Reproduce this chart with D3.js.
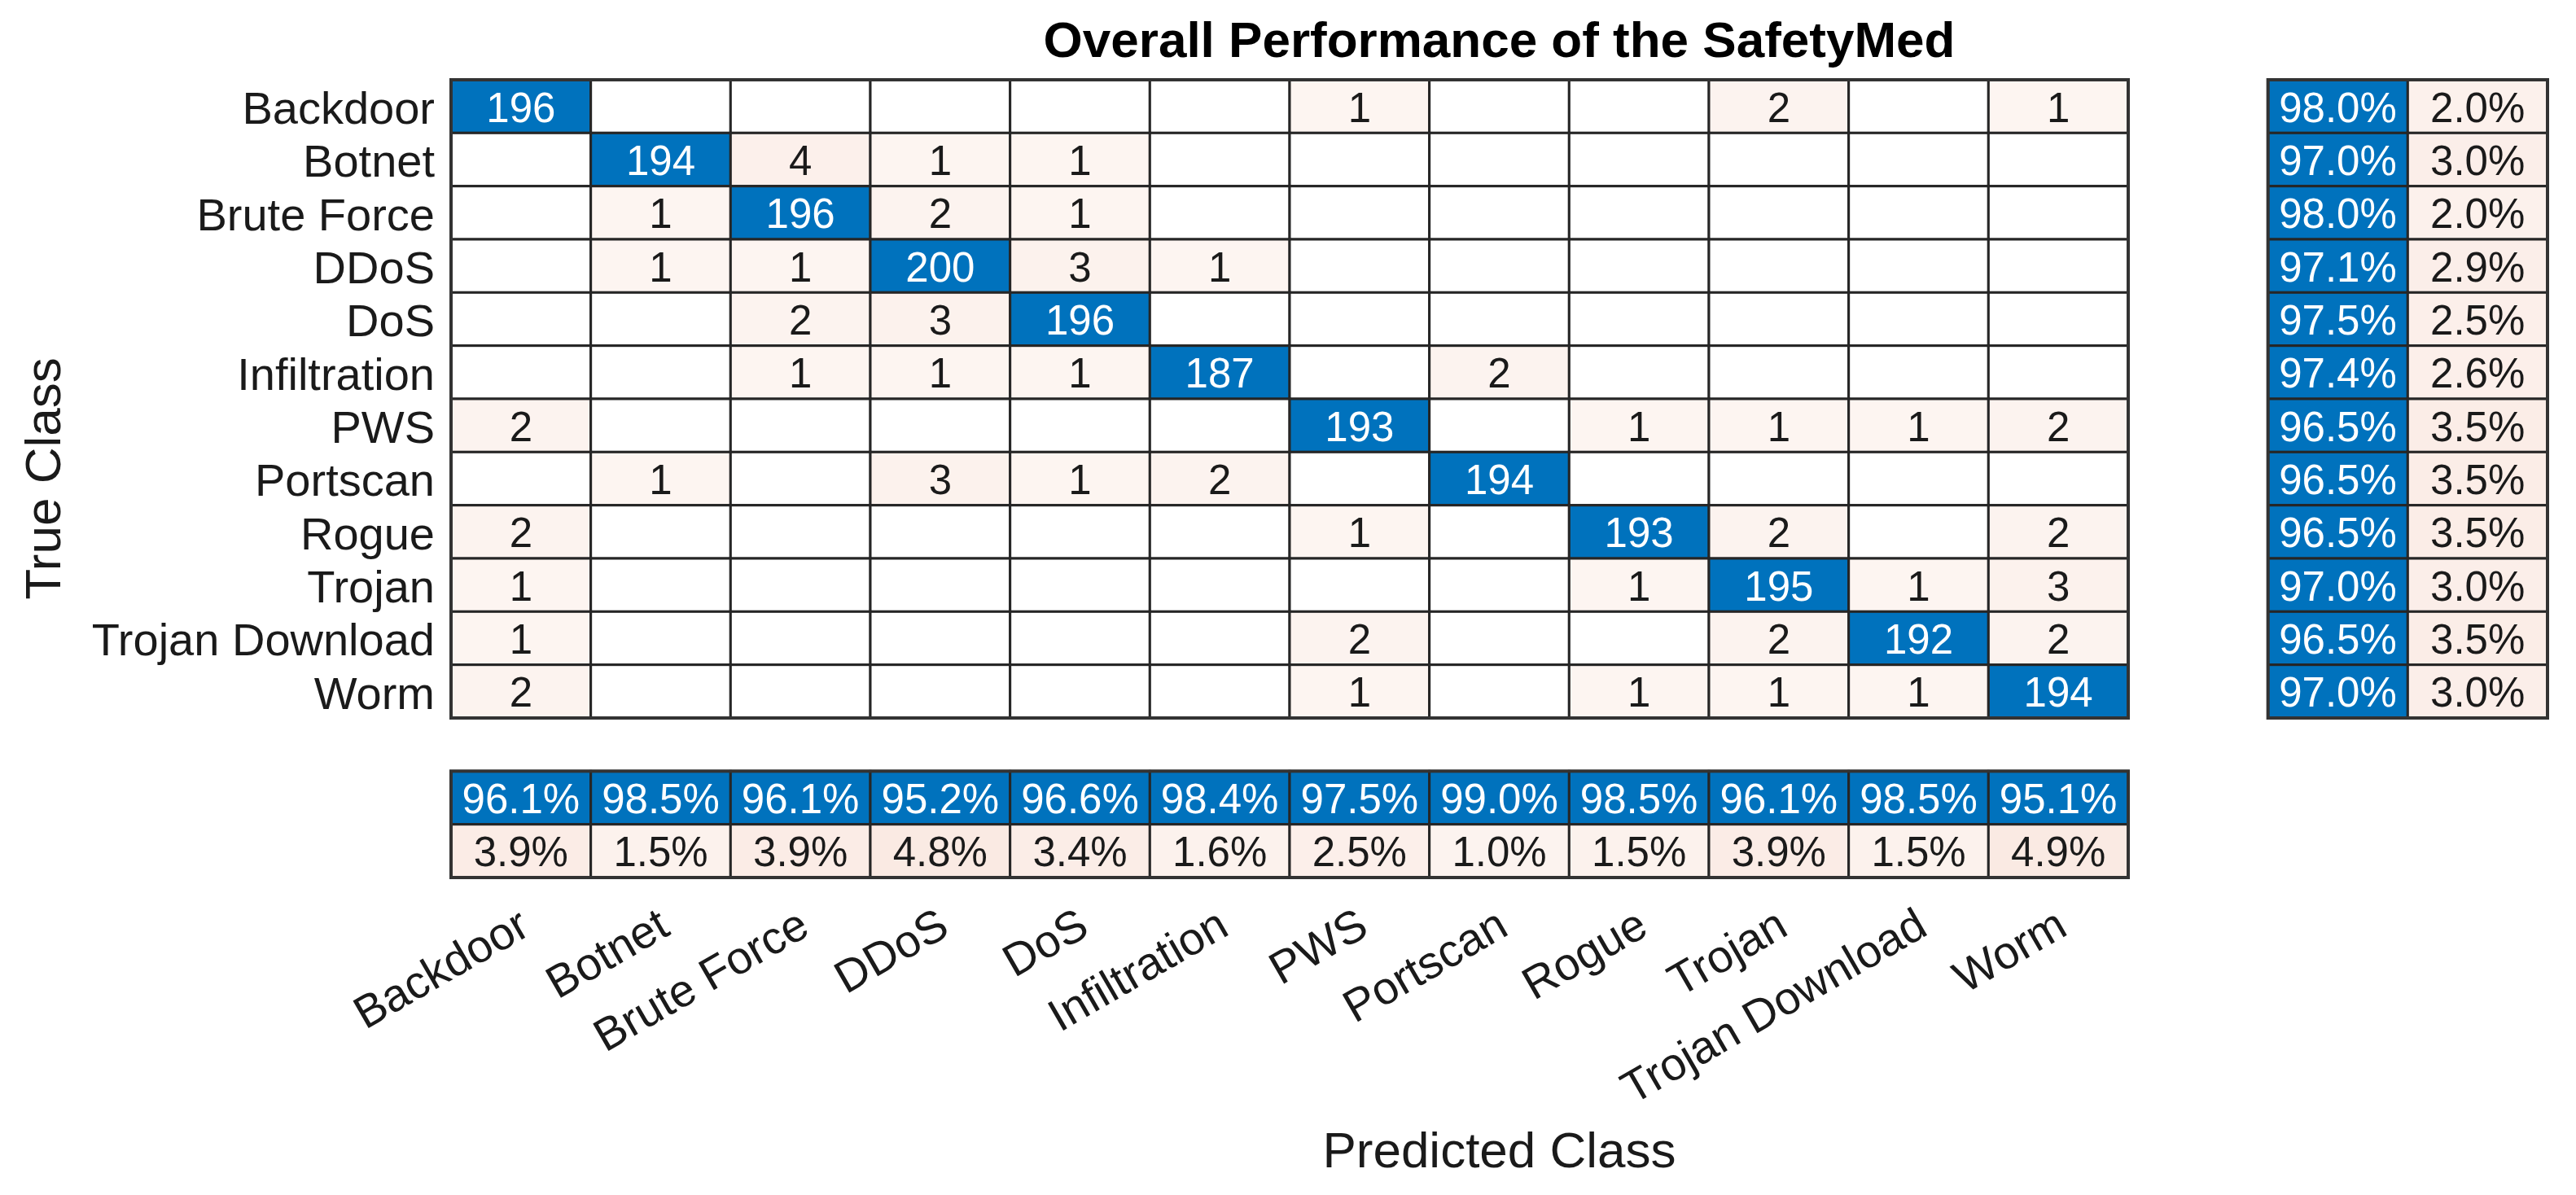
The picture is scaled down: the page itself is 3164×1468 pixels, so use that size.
<!DOCTYPE html>
<html>
<head>
<meta charset="utf-8">
<script src="https://cdn.jsdelivr.net/npm/d3@7"></script>
<style>
  body { margin: 0; background: #fff; }
  text { font-family: "Liberation Sans", Arial, Helvetica, sans-serif; }
</style>
</head>
<body>
<svg id="chart" width="3164" height="1468"></svg>
<script>

// class names (rows = true class, columns = predicted class)
const classes = ["Backdoor", "Botnet", "Brute Force", "DDoS", "DoS", "Infiltration",
                 "PWS", "Portscan", "Rogue", "Trojan", "Trojan Download", "Worm"];

// confusion counts, one array per true class
const counts = [
  [196,   0,   0,   0,   0,   0,   1,   0,   0,   2,   0,   1],
  [  0, 194,   4,   1,   1,   0,   0,   0,   0,   0,   0,   0],
  [  0,   1, 196,   2,   1,   0,   0,   0,   0,   0,   0,   0],
  [  0,   1,   1, 200,   3,   1,   0,   0,   0,   0,   0,   0],
  [  0,   0,   2,   3, 196,   0,   0,   0,   0,   0,   0,   0],
  [  0,   0,   1,   1,   1, 187,   0,   2,   0,   0,   0,   0],
  [  2,   0,   0,   0,   0,   0, 193,   0,   1,   1,   1,   2],
  [  0,   1,   0,   3,   1,   2,   0, 194,   0,   0,   0,   0],
  [  2,   0,   0,   0,   0,   0,   1,   0, 193,   2,   0,   2],
  [  1,   0,   0,   0,   0,   0,   0,   0,   1, 195,   1,   3],
  [  1,   0,   0,   0,   0,   0,   2,   0,   0,   2, 192,   2],
  [  2,   0,   0,   0,   0,   0,   1,   0,   1,   1,   1, 194]
];

// row summary (per true class)
const rowCorrect = [98.0, 97.0, 98.0, 97.1, 97.5, 97.4, 96.5, 96.5, 96.5, 97.0, 96.5, 97.0];
const rowWrong   = [2.0, 3.0, 2.0, 2.9, 2.5, 2.6, 3.5, 3.5, 3.5, 3.0, 3.5, 3.0];

// column summary (per predicted class)
const colCorrect = [96.1, 98.5, 96.1, 95.2, 96.6, 98.4, 97.5, 99.0, 98.5, 96.1, 98.5, 95.1];
const colWrong   = [3.9, 1.5, 3.9, 4.8, 3.4, 1.6, 2.5, 1.0, 1.5, 3.9, 1.5, 4.9];

let svg = d3.select("#chart");
svg.append("rect").attr("width", 3164).attr("height", 1468).attr("fill", "#fff");

let blue = "#0072BD";
let red = d3.interpolateRgb("#ffffff", "#D95319");
let lineCol = "#262626";
let txtCol = "#1a1a1a";

// main grid
let x = d3.scaleBand().domain(classes).range([554, 2614]);
let y = d3.scaleBand().domain(classes).range([98, 882]);
let bw = x.bandwidth(), bh = y.bandwidth();

// summary blocks sit one empty cell away from the matrix
let xr = d3.scaleBand().domain(["ok", "bad"]).range([2614 + bw, 2614 + 3 * bw]);
let yb = d3.scaleBand().domain(["ok", "bad"]).range([882 + bh, 882 + 3 * bh]);

let countShade = d3.scaleLinear().domain([1, 4]).range([0.06, 0.085]);
let pctShade = d3.scaleLinear().domain([1, 5]).range([0.07, 0.125]);

// flatten the matrix
let cells = [];
counts.forEach((row, i) => row.forEach((v, j) => cells.push({r: classes[i], c: classes[j], v: v, diag: i === j})));

function cellFill(d) {
  if (d.diag) return blue;
  if (d.v === 0) return "#ffffff";
  return red(countShade(d.v));
}

let gm = svg.append("g");
gm.selectAll("rect")
  .data(cells)
  .enter().append("rect")
    .attr("x", d => x(d.c))
    .attr("y", d => y(d.r))
    .attr("width", bw)
    .attr("height", bh)
    .attr("fill", cellFill)
    .attr("stroke", lineCol)
    .attr("stroke-width", 3);

gm.selectAll("text")
  .data(cells.filter(d => d.v > 0))
  .enter().append("text")
    .attr("x", d => x(d.c) + bw / 2)
    .attr("y", d => y(d.r) + bh / 2)
    .attr("dy", "0.37em")
    .attr("text-anchor", "middle")
    .attr("font-size", 51)
    .attr("fill", d => d.diag ? "#ffffff" : txtCol)
    .text(d => d.v);

gm.append("rect")
  .attr("x", 554).attr("y", 98).attr("width", 2614 - 554).attr("height", 882 - 98)
  .attr("fill", "none").attr("stroke", "#333").attr("stroke-width", 4);

// right summary (recall)
let rightCells = [];
classes.forEach((k, i) => {
  rightCells.push({r: k, c: "ok", v: rowCorrect[i]});
  rightCells.push({r: k, c: "bad", v: rowWrong[i]});
});

let gr = svg.append("g");
gr.selectAll("rect")
  .data(rightCells)
  .enter().append("rect")
    .attr("x", d => xr(d.c))
    .attr("y", d => y(d.r))
    .attr("width", xr.bandwidth())
    .attr("height", bh)
    .attr("fill", d => d.c === "ok" ? blue : red(pctShade(d.v)))
    .attr("stroke", lineCol)
    .attr("stroke-width", 3);

gr.selectAll("text")
  .data(rightCells)
  .enter().append("text")
    .attr("x", d => xr(d.c) + xr.bandwidth() / 2)
    .attr("y", d => y(d.r) + bh / 2)
    .attr("dy", "0.37em")
    .attr("text-anchor", "middle")
    .attr("font-size", 51)
    .attr("fill", d => d.c === "ok" ? "#ffffff" : txtCol)
    .text(d => d.v.toFixed(1) + "%");

gr.append("rect")
  .attr("x", xr.range()[0]).attr("y", 98).attr("width", 2 * bw).attr("height", 882 - 98)
  .attr("fill", "none").attr("stroke", "#333").attr("stroke-width", 4);

// bottom summary (precision)
let bottomCells = [];
classes.forEach((k, j) => {
  bottomCells.push({c: k, r: "ok", v: colCorrect[j]});
  bottomCells.push({c: k, r: "bad", v: colWrong[j]});
});

let gb = svg.append("g");
gb.selectAll("rect")
  .data(bottomCells)
  .enter().append("rect")
    .attr("x", d => x(d.c))
    .attr("y", d => yb(d.r))
    .attr("width", bw)
    .attr("height", yb.bandwidth())
    .attr("fill", d => d.r === "ok" ? blue : red(pctShade(d.v)))
    .attr("stroke", lineCol)
    .attr("stroke-width", 3);

gb.selectAll("text")
  .data(bottomCells)
  .enter().append("text")
    .attr("x", d => x(d.c) + bw / 2)
    .attr("y", d => yb(d.r) + yb.bandwidth() / 2)
    .attr("dy", "0.37em")
    .attr("text-anchor", "middle")
    .attr("font-size", 51)
    .attr("fill", d => d.r === "ok" ? "#ffffff" : txtCol)
    .text(d => d.v.toFixed(1) + "%");

gb.append("rect")
  .attr("x", 554).attr("y", yb.range()[0]).attr("width", 2614 - 554).attr("height", 2 * bh)
  .attr("fill", "none").attr("stroke", "#333").attr("stroke-width", 4);

// y axis: true class labels
svg.append("g")
    .attr("transform", "translate(554,0)")
    .call(d3.axisLeft(y).tickSize(0).tickPadding(20))
    .attr("font-family", null)
    .attr("font-size", 56)
    .call(g => g.select(".domain").remove())
    .selectAll("text")
      .attr("fill", txtCol)
      .attr("dy", "0.38em");

// x axis: predicted class labels, rotated
svg.append("g")
    .attr("transform", `translate(0,${yb.range()[1]})`)
    .call(d3.axisBottom(x).tickSize(0))
    .attr("font-family", null)
    .attr("font-size", 56)
    .call(g => g.select(".domain").remove())
    .selectAll("text")
      .attr("fill", txtCol)
      .attr("y", 0)
      .attr("dy", "0.35em")
      .attr("text-anchor", "end")
      .attr("transform", "translate(4,52) rotate(-30)");

// titles
let midX = (554 + xr.range()[1]) / 2;
svg.append("text")
  .attr("x", midX).attr("y", 70)
  .attr("text-anchor", "middle")
  .attr("font-size", 62)
  .attr("font-weight", "bold")
  .attr("fill", "#000")
  .text("Overall Performance of the SafetyMed");

svg.append("text")
  .attr("x", midX).attr("y", 1434)
  .attr("text-anchor", "middle")
  .attr("font-size", 62)
  .attr("fill", txtCol)
  .text("Predicted Class");

svg.append("text")
  .attr("transform", `translate(74,${(98 + yb.range()[1]) / 2}) rotate(-90)`)
  .attr("text-anchor", "middle")
  .attr("font-size", 62)
  .attr("fill", txtCol)
  .text("True Class");

</script>
</body>
</html>
